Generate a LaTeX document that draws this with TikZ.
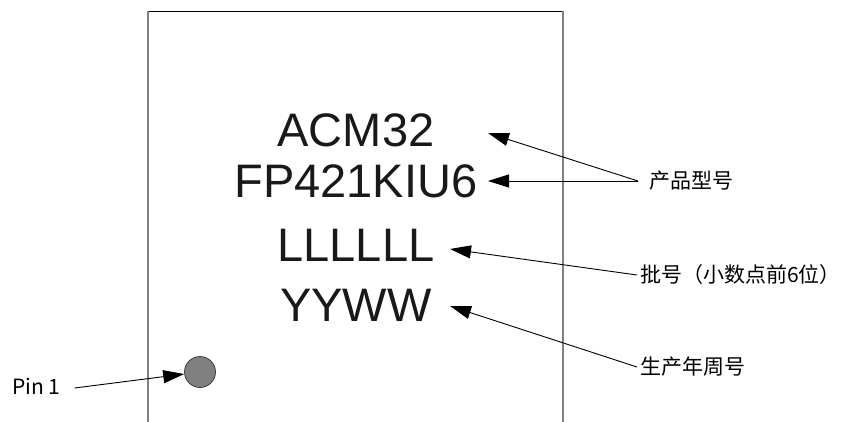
\documentclass[tikz,border=0pt]{standalone}
\usepackage{fontspec}
\setmainfont{Liberation Sans}
\newfontfamily\cjk{Noto Sans CJK SC}
\usetikzlibrary{arrows.meta, positioning, calc}

\tikzset{
	mark line/.style={font=\fontsize{47pt}{47pt}\selectfont, text=black!90, anchor=base, inner sep=0pt},
	note/.style={font=\cjk\fontsize{21pt}{21pt}\selectfont, anchor=west, inner sep=0pt},
	pointer/.style={draw=black, line width=0.9pt, -{Triangle[length=21pt,width=13pt]}}
}

\begin{document}
\begin{tikzpicture}[x=1pt, y=-1pt]
		\useasboundingbox (0,0) rectangle (845,422);
		%draw chip outline
		\draw[black, line width=1pt] (148,11.5) -- (563,11.5);
		\draw[gray, line width=1.2pt] (148,11.5) -- (148,422);
		\draw[gray, line width=1.2pt] (563,11.5) -- (563,422);
		%draw marking
		\node[mark line] (acm) at (356,147) {ACM32};
		\node[mark line] (fpn) at (356,197) {FP421KIU6};
		\node[mark line] (lot) at (356,261) {LLLLLL};
		\node[mark line] (yyww) at (356,321) {YYWW};
		%draw pin 1 dot
		\node[circle, draw=black!75, fill=black!50, line width=0.8pt, minimum size=31pt, inner sep=0pt] (dot) at (200,372) {};
		%draw notes
		\node[note] (model) at (649,181) {产品型号};
		\node[note] (batch) at (640,275) {批号（小数点前6位）};
		\node[note] (date) at (640,367) {生产年周号};
		\node[note] (pin) at (12,386) {Pin 1};
		%arrow tips
		\coordinate (acm tip) at (488,133);
		\coordinate (fpn tip) at (488,181);
		\coordinate (lot tip) at (450,249);
		\coordinate (yyww tip) at (450,306);
		%draw arrows
		\draw[pointer] ([xshift=-11pt]model.west) -- (acm tip);
		\draw[pointer] ([xshift=-11pt]model.west) -- (fpn tip);
		\draw[pointer] ([xshift=-3pt]batch.west) -- (lot tip);
		\draw[pointer] ([xshift=-3pt]date.west) -- (yyww tip);
		\draw[pointer] ([xshift=14pt,yshift=-2pt]pin.east) -- (dot);
\end{tikzpicture}
\end{document}
